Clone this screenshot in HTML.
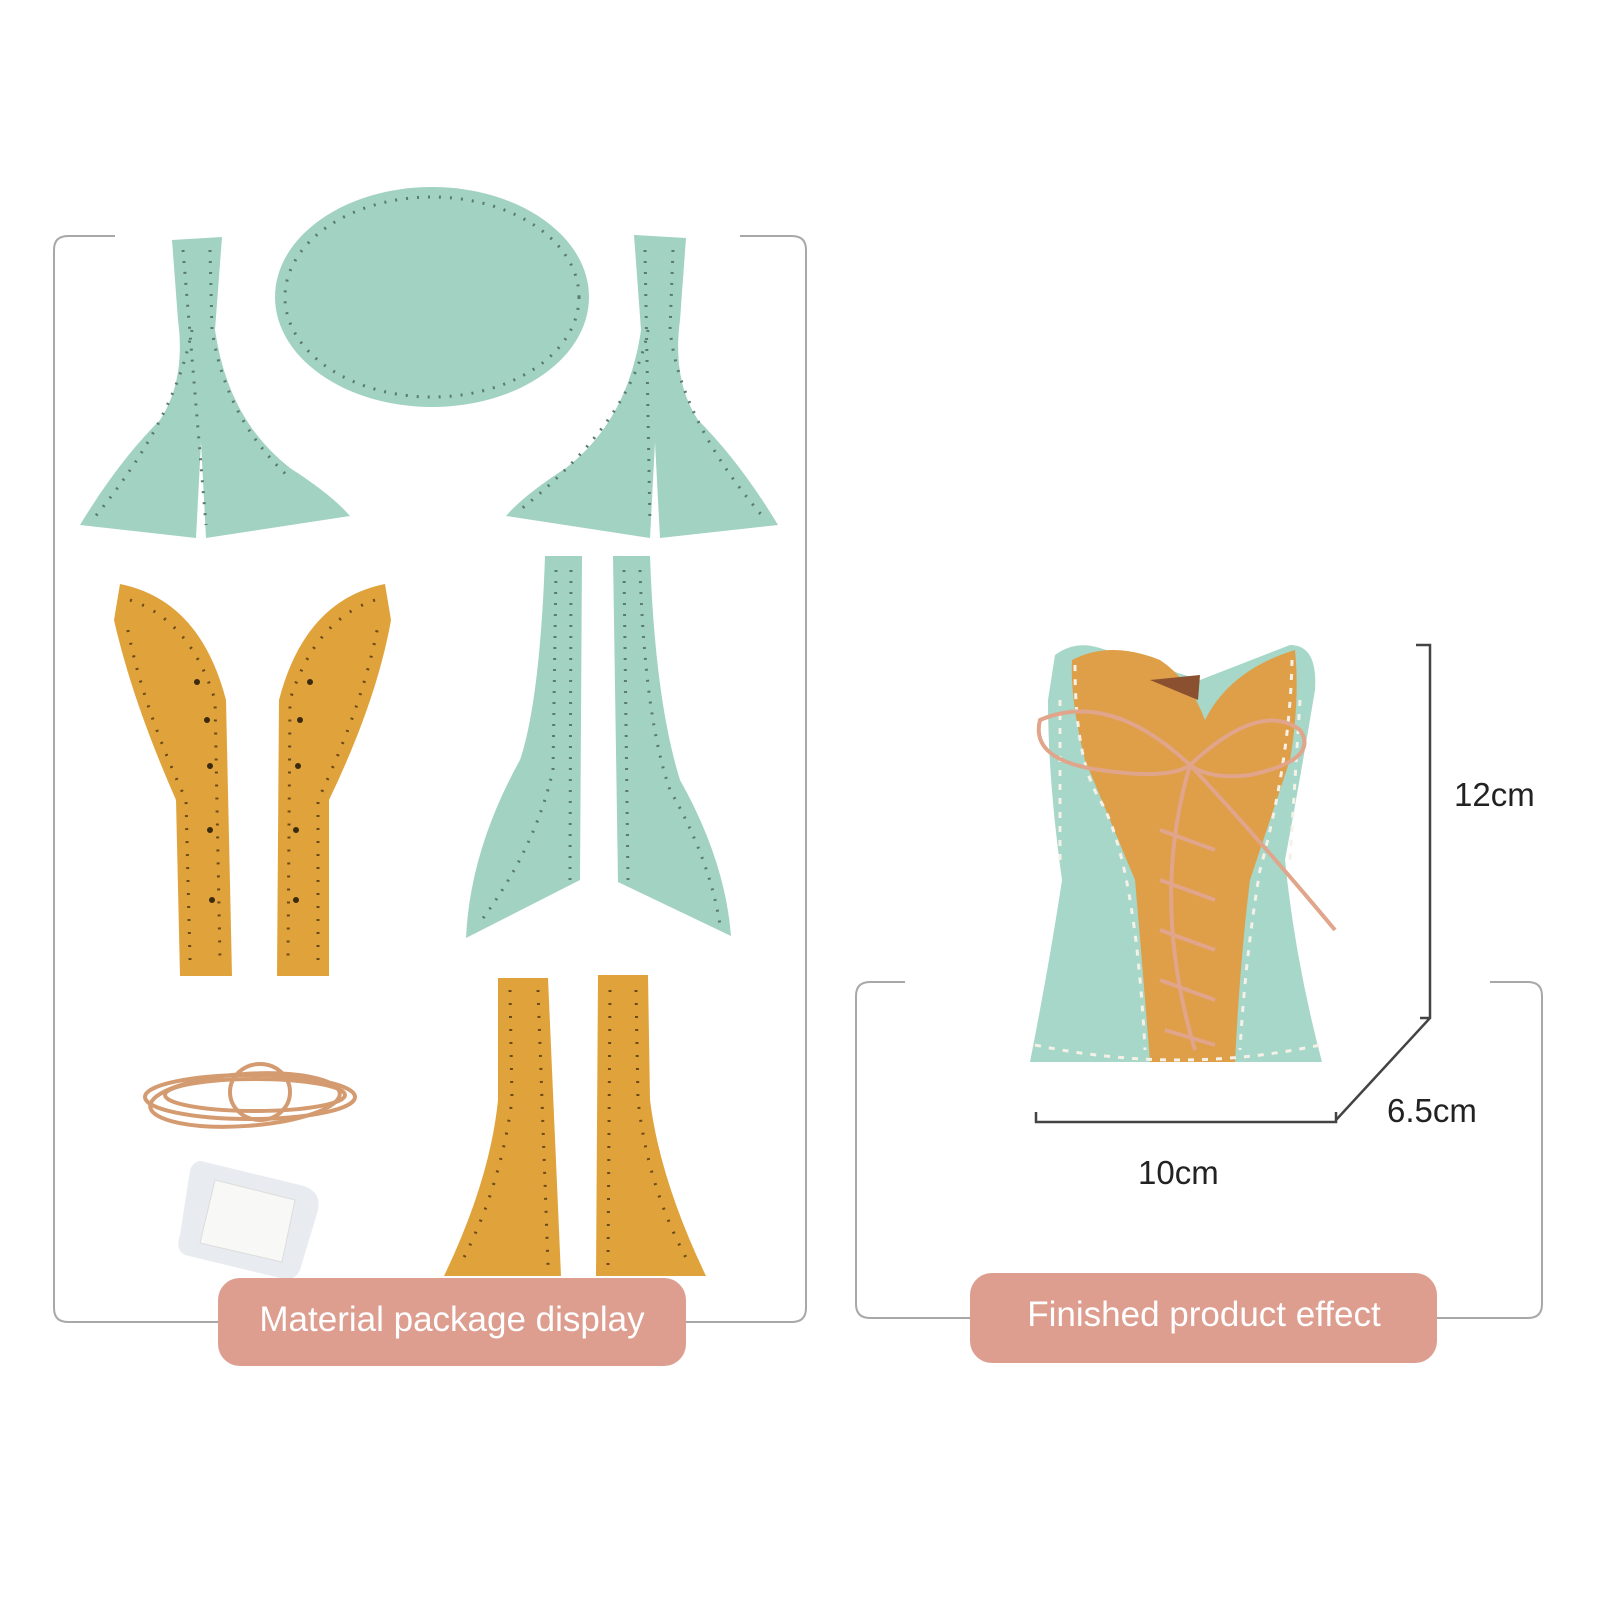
<!DOCTYPE html>
<html><head><meta charset="utf-8"><style>
html,body{margin:0;padding:0;background:#fff}
svg{display:block}
text{font-family:"Liberation Sans",sans-serif}
</style></head><body>
<svg width="1600" height="1600" viewBox="0 0 1600 1600" xmlns="http://www.w3.org/2000/svg">
<g fill="none" stroke="#a8a8a8" stroke-width="2">
<path d="M115 236 L68 236 Q54 236 54 250 L54 1308 Q54 1322 68 1322 L792 1322 Q806 1322 806 1308 L806 250 Q806 236 792 236 L740 236"/>
<path d="M905 982 L870 982 Q856 982 856 996 L856 1304 Q856 1318 870 1318 L1528 1318 Q1542 1318 1542 1304 L1542 996 Q1542 982 1528 982 L1490 982"/>
</g>
<g fill="#a2d2c2">
<path d="M172 240 L222 237 L215 330 Q228 420 290 468 Q332 495 350 516 L206 538 L201 442 L196 538 L80 525 Q118 462 160 420 Q186 380 178 320 Z"/>
<path d="M686 238 L634 235 L641 330 Q628 420 566 468 Q524 495 506 516 L650 538 L655 442 L660 538 L778 525 Q740 462 698 420 Q672 380 680 320 Z"/>
<ellipse cx="432" cy="297" rx="157" ry="110"/>
<path d="M545 556 L582 556 L580 880 L466 938 Q470 850 520 760 Q540 700 545 556 Z"/>
<path d="M613 556 L650 556 Q655 700 680 780 Q725 860 731 936 L618 882 Z"/>
</g>
<g fill="none" stroke="#5a7a70" stroke-width="3" stroke-dasharray="2 9">
<ellipse cx="432" cy="297" rx="147" ry="100"/>
<path d="M183 250 L206 525 M210 250 L212 330 Q226 420 290 478 M192 330 Q175 420 94 518"/>
<path d="M645 250 L650 525 M673 250 L670 330 Q680 420 764 518 M648 330 Q632 420 520 510"/>
<path d="M556 570 L553 770 Q535 850 478 925 M571 570 L570 880"/>
<path d="M624 570 L628 880 M640 570 Q645 720 670 790 Q710 860 720 925"/>
</g>
<g fill="#e0a33c">
<path d="M120 584 Q200 600 226 700 L232 976 L180 976 L176 800 Q132 700 114 620 Z"/>
<path d="M385 584 Q305 600 279 700 L277 976 L329 976 L329 800 Q377 700 391 620 Z"/>
<path d="M498 978 L548 978 L561 1276 L444 1276 Q490 1180 498 1100 Z"/>
<path d="M598 975 L648 975 L650 1100 Q660 1180 706 1276 L596 1276 Z"/>
</g>
<g fill="none" stroke="#6b4a1a" stroke-width="3" stroke-dasharray="2 11">
<path d="M130 600 Q190 620 215 700 L220 960 M190 960 L186 800 Q140 700 126 620"/>
<path d="M375 600 Q315 620 290 700 L288 960 M318 960 L318 800 Q365 700 379 620"/>
<path d="M510 990 L512 1100 Q500 1190 460 1265 M538 990 L548 1265"/>
<path d="M610 990 L608 1265 M636 990 L638 1100 Q648 1190 690 1265"/>
</g>
<g fill="#3a2a10"><circle cx="197" cy="682" r="3"/><circle cx="207" cy="720" r="3"/><circle cx="210" cy="766" r="3"/><circle cx="210" cy="830" r="3"/><circle cx="212" cy="900" r="3"/><circle cx="310" cy="682" r="3"/><circle cx="300" cy="720" r="3"/><circle cx="298" cy="766" r="3"/><circle cx="296" cy="830" r="3"/><circle cx="296" cy="900" r="3"/></g>
<g fill="none" stroke="#d49a70" stroke-width="4">
<ellipse cx="250" cy="1097" rx="105" ry="22"/><ellipse cx="255" cy="1095" rx="90" ry="16"/><ellipse cx="245" cy="1100" rx="95" ry="26" transform="rotate(-4 245 1100)"/><ellipse cx="260" cy="1092" rx="30" ry="28"/>
</g>
<path d="M205 1162 L300 1185 Q322 1190 318 1210 L300 1270 Q295 1282 280 1278 L185 1255 Q175 1250 180 1235 L190 1170 Q195 1158 205 1162 Z" fill="#e8ecf0"/>
<path d="M215 1180 L295 1200 L282 1262 L200 1243 Z" fill="#f8f8f6" stroke="#dcdcdc"/>
<!-- corset -->
<path d="M1055 655 Q1075 640 1100 648 L1200 680 L1290 645 Q1318 645 1315 690 Q1300 780 1285 860 Q1295 960 1322 1062 L1030 1062 Q1050 960 1062 880 Q1048 780 1048 700 Z" fill="#a7d7c8"/>
<path d="M1072 660 Q1110 640 1160 660 Q1190 680 1205 720 Q1230 670 1295 650 Q1300 700 1290 760 L1250 880 Q1240 960 1235 1062 L1150 1062 Q1142 960 1135 880 L1085 760 Q1070 700 1072 660 Z" fill="#df9f48"/>
<path d="M1150 680 L1200 675 L1198 700 Z" fill="#8a5030"/>
<g fill="none" stroke="#f6f1e8" stroke-width="3" stroke-dasharray="6 8">
<path d="M1075 665 Q1075 760 1100 800 Q1135 860 1145 1050"/>
<path d="M1292 660 Q1290 760 1260 870 Q1245 960 1240 1050"/>
<path d="M1035 1045 Q1180 1075 1320 1045"/>
<path d="M1060 700 L1060 860 M1300 700 L1290 860"/>
</g>
<g fill="none" stroke="#e0a58a" stroke-width="4">
<path d="M1190 765 Q1110 690 1040 720 Q1030 760 1100 770 Q1170 780 1190 765 Q1260 700 1300 730 Q1320 760 1250 775 Q1210 780 1190 765"/>
<path d="M1190 765 Q1150 900 1195 1050 M1190 765 Q1260 840 1335 930"/>
<path d="M1160 830 L1215 850 M1160 880 L1215 900 M1160 930 L1215 950 M1160 980 L1215 1000 M1165 1030 L1215 1045"/>
</g>
<g fill="none" stroke="#444" stroke-width="2.5">
<path d="M1416 645 L1430 645 L1430 1018 L1336 1120 M1420 1018 L1430 1018"/>
<path d="M1036 1112 L1036 1122 L1336 1122 L1336 1112"/>
</g>
<text x="1454" y="806" font-size="33" fill="#222">12cm</text>
<text x="1387" y="1122" font-size="33" fill="#222">6.5cm</text>
<text x="1138" y="1184" font-size="33" fill="#222">10cm</text>
<rect x="218" y="1278" width="468" height="88" rx="22" fill="#dd9e90"/>
<text x="452" y="1331" font-size="35" fill="#fff" text-anchor="middle">Material package display</text>
<rect x="970" y="1273" width="467" height="90" rx="22" fill="#dd9e90"/>
<text x="1204" y="1326" font-size="35" fill="#fff" text-anchor="middle">Finished product effect</text>
</svg>
</body></html>
